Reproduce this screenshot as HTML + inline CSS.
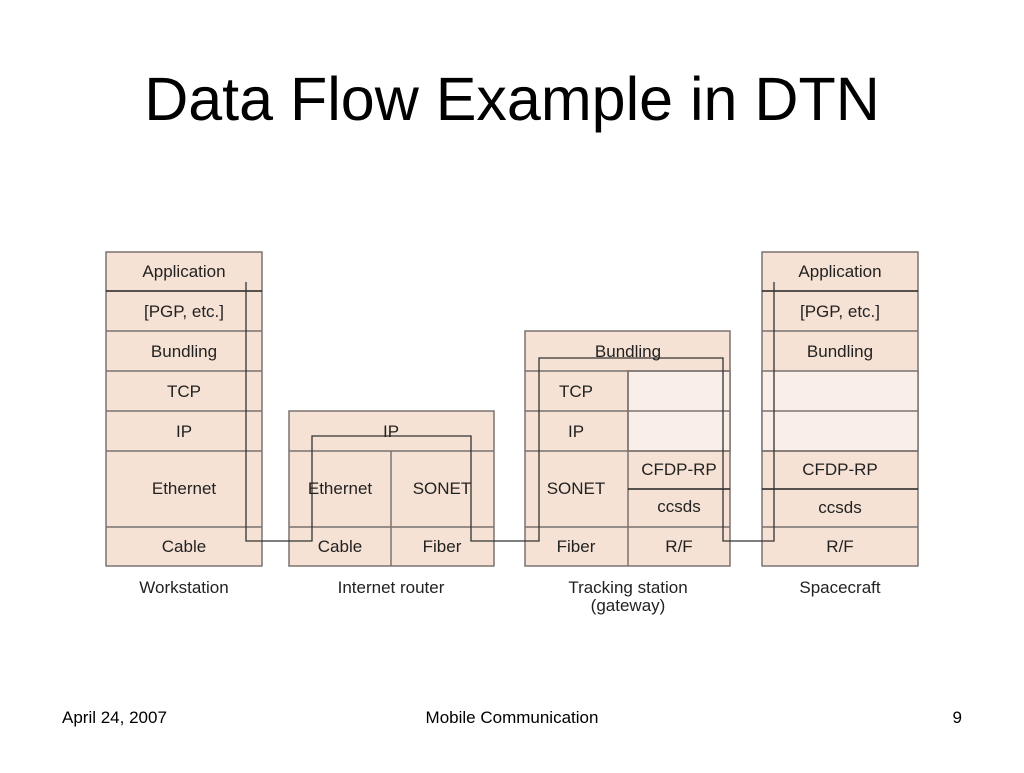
<!DOCTYPE html>
<html><head><style>
body{margin:0;width:1024px;height:768px;background:#fff;overflow:hidden;font-family:"Liberation Sans",sans-serif;}
</style></head><body>
<svg width="1024" height="768" xmlns="http://www.w3.org/2000/svg" font-family="Liberation Sans, sans-serif">
<text x="512" y="120" font-size="61" text-anchor="middle">Data Flow Example in DTN</text>
<g stroke="#7a7370" stroke-width="1.5" fill="#f5e2d4">
<rect x="106" y="252" width="156" height="314"/>
<line x1="106" y1="331" x2="262" y2="331"/><line x1="106" y1="371" x2="262" y2="371"/>
<line x1="106" y1="411" x2="262" y2="411"/><line x1="106" y1="451" x2="262" y2="451"/>
<line x1="106" y1="527" x2="262" y2="527"/>
<rect x="289" y="411" width="205" height="155"/>
<line x1="289" y1="451" x2="494" y2="451"/><line x1="289" y1="527" x2="494" y2="527"/>
<line x1="391" y1="451" x2="391" y2="566"/>
<rect x="525" y="331" width="205" height="235"/>
<rect x="628" y="371" width="102" height="80" fill="#faefe8"/>
<line x1="525" y1="371" x2="730" y2="371"/><line x1="525" y1="411" x2="730" y2="411"/>
<line x1="525" y1="451" x2="730" y2="451"/><line x1="525" y1="527" x2="730" y2="527"/>
<line x1="628" y1="371" x2="628" y2="566"/>
<rect x="762" y="252" width="156" height="314"/>
<rect x="762" y="371" width="156" height="80" fill="#faefe8"/>
<line x1="762" y1="331" x2="918" y2="331"/><line x1="762" y1="411" x2="918" y2="411"/>
<line x1="762" y1="451" x2="918" y2="451"/><line x1="762" y1="527" x2="918" y2="527"/>
</g>
<g stroke="#222" stroke-width="1.5">
<line x1="106" y1="291" x2="262" y2="291"/>
<line x1="762" y1="291" x2="918" y2="291"/>
<line x1="762" y1="489" x2="918" y2="489"/>
<line x1="628" y1="489" x2="730" y2="489"/>
</g>
<polyline fill="none" stroke="#333" stroke-width="1.3" points="246,282 246,541 312,541 312,436 471,436 471,541 539,541 539,358 723,358 723,541 774,541 774,282"/>
<g font-size="17" text-anchor="middle" fill="#222">
<text x="184" y="277">Application</text><text x="184" y="317">[PGP, etc.]</text>
<text x="184" y="357">Bundling</text><text x="184" y="397">TCP</text>
<text x="184" y="437">IP</text><text x="184" y="494">Ethernet</text>
<text x="184" y="552">Cable</text>
<text x="391" y="437">IP</text><text x="340" y="494">Ethernet</text><text x="442" y="494">SONET</text>
<text x="340" y="552">Cable</text><text x="442" y="552">Fiber</text>
<text x="628" y="357">Bundling</text><text x="576" y="397">TCP</text><text x="576" y="437">IP</text>
<text x="576" y="494">SONET</text><text x="679" y="475">CFDP-RP</text><text x="679" y="512">ccsds</text>
<text x="576" y="552">Fiber</text><text x="679" y="552">R/F</text>
<text x="840" y="277">Application</text><text x="840" y="317">[PGP, etc.]</text>
<text x="840" y="357">Bundling</text><text x="840" y="475">CFDP-RP</text>
<text x="840" y="513">ccsds</text><text x="840" y="552">R/F</text>
<text x="184" y="593">Workstation</text><text x="391" y="593">Internet router</text>
<text x="628" y="593">Tracking station</text><text x="628" y="611">(gateway)</text>
<text x="840" y="593">Spacecraft</text>
</g>
<g font-size="17" fill="#000">
<text x="62" y="723">April 24, 2007</text>
<text x="512" y="723" text-anchor="middle">Mobile Communication</text>
<text x="962" y="723" text-anchor="end">9</text>
</g>
</svg>
</body></html>
